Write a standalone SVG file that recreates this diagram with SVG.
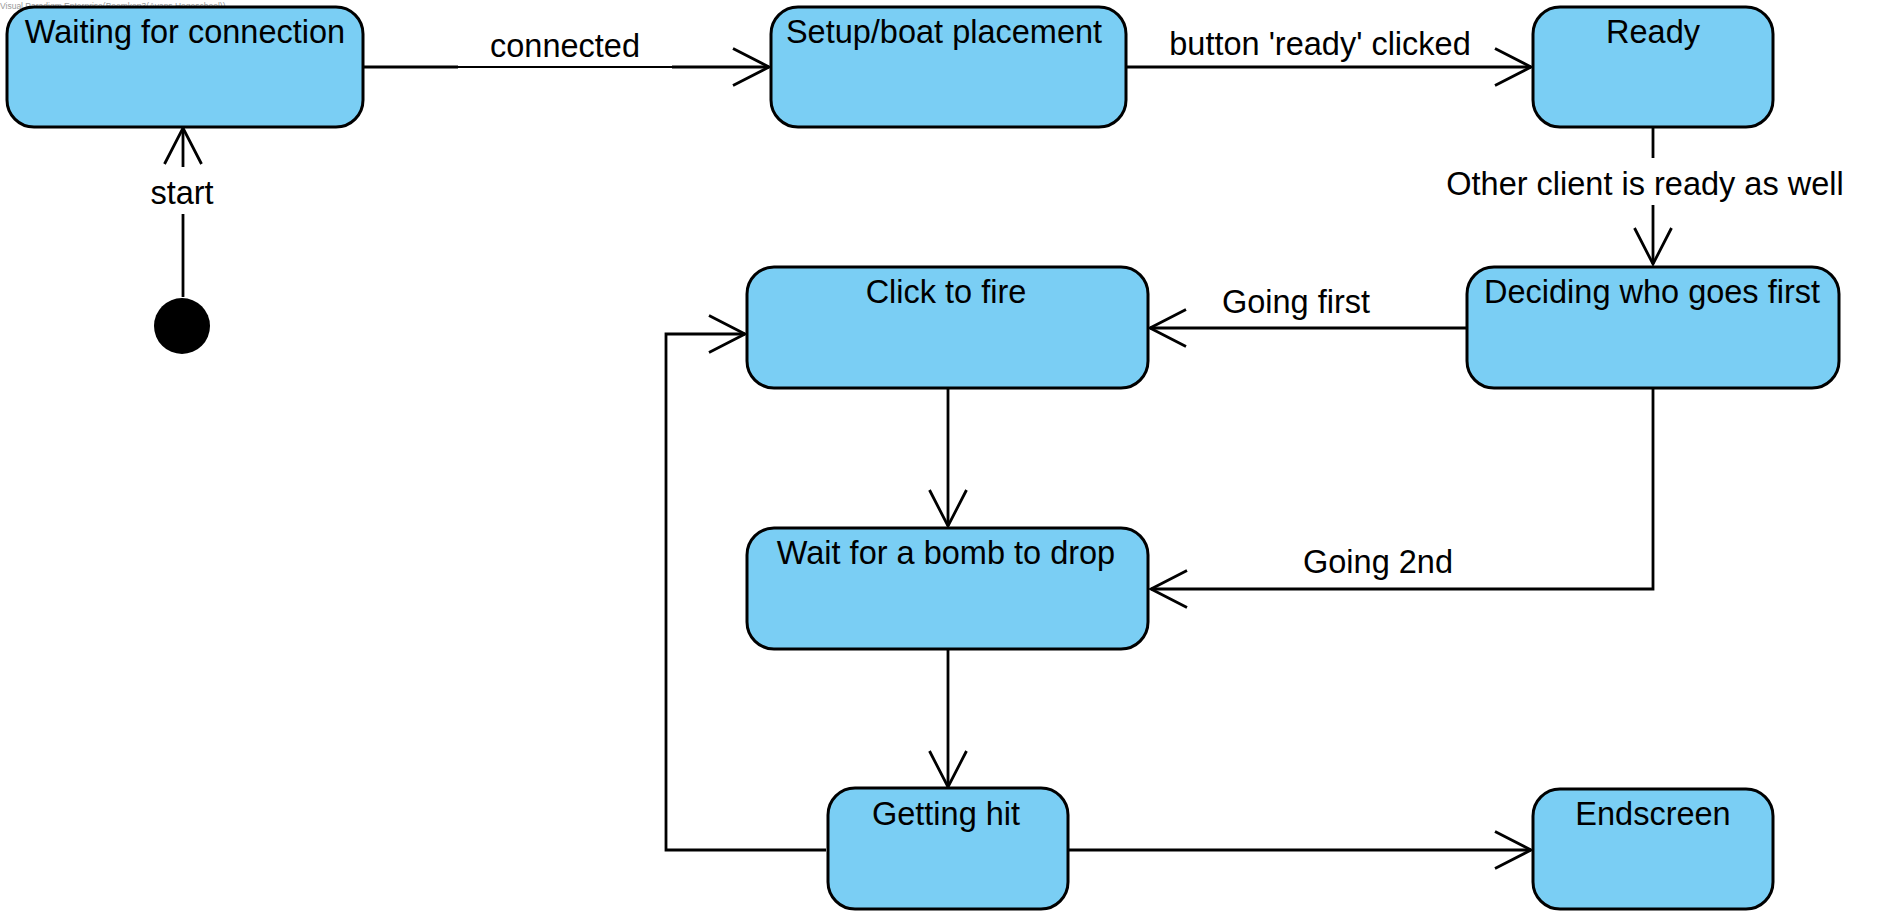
<svg xmlns="http://www.w3.org/2000/svg" width="1893" height="921" viewBox="0 0 1893 921">
<style>
.node{fill:#7ACEF4;stroke:#000;stroke-width:3}
.t{font-family:"Liberation Sans",Arial,sans-serif;font-size:32.5px;fill:#000;text-anchor:middle}
.e{fill:none;stroke:#000;stroke-width:2.8}
.wm{font-family:"Liberation Sans",Arial,sans-serif;font-size:8.5px;fill:#9a9a9a}
</style>
<defs>
<marker id="arr" markerUnits="userSpaceOnUse" markerWidth="44" markerHeight="44" viewBox="-40 -22 44 44" refX="0" refY="0" orient="auto" overflow="visible">
<path d="M-36,-18.5 L0,0 L-36,18.5" fill="none" stroke="#000" stroke-width="2.8"/>
</marker>
</defs>
<rect width="1893" height="921" fill="#fff"/>
<text class="wm" x="0" y="9">Visual Paradigm Enterprise(Boomkop3(Avans Hogeschool))</text>
<g id="connectors">
<g id="e-start">
<line class="e" x1="183" y1="297" x2="183" y2="214"/>
<path class="e" d="M183,167 L183,128" marker-end="url(#arr)"/>
<text class="t" x="182" y="204">start</text>
</g>
<g id="e-connected">
<line class="e" x1="363" y1="67" x2="458" y2="67"/>
<line x1="458" y1="67" x2="672" y2="67" stroke="#000" stroke-width="1.8"/>
<path class="e" d="M672,67 L769,67" marker-end="url(#arr)"/>
<text class="t" x="565" y="57">connected</text>
</g>
<g id="e-button">
<path class="e" d="M1126,67 L1531,67" marker-end="url(#arr)"/>
<text class="t" x="1320" y="55">button 'ready' clicked</text>
</g>
<g id="e-other">
<line class="e" x1="1653" y1="127" x2="1653" y2="158"/>
<path class="e" d="M1653,205 L1653,264" marker-end="url(#arr)"/>
<text class="t" x="1645" y="195">Other client is ready as well</text>
</g>
<g id="e-first">
<path class="e" d="M1467,328 L1150,328" marker-end="url(#arr)"/>
<text class="t" x="1296" y="313">Going first</text>
</g>
<g id="e-second">
<path class="e" d="M1653,388 L1653,589 L1151,589" marker-end="url(#arr)"/>
<text class="t" x="1378" y="573">Going 2nd</text>
</g>
<g id="e-click-wait">
<path class="e" d="M948,388 L948,526" marker-end="url(#arr)"/>
</g>
<g id="e-wait-hit">
<path class="e" d="M948,649 L948,787" marker-end="url(#arr)"/>
</g>
<g id="e-hit-click">
<path class="e" d="M826,850 L666,850 L666,334 L745,334" marker-end="url(#arr)"/>
</g>
<g id="e-hit-end">
<path class="e" d="M1068,850 L1531,850" marker-end="url(#arr)"/>
</g>
</g>
<g id="initial">
<circle cx="182" cy="326" r="28" fill="#000"/>
</g>
<g id="n-waiting">
<rect class="node" x="7" y="7" width="356" height="120" rx="27" ry="27"/>
<text class="t" x="185" y="43">Waiting for connection</text>
</g>
<g id="n-setup">
<rect class="node" x="771" y="7" width="355" height="120" rx="27" ry="27"/>
<text class="t" x="944" y="43">Setup/boat placement</text>
</g>
<g id="n-ready">
<rect class="node" x="1533" y="7" width="240" height="120" rx="27" ry="27"/>
<text class="t" x="1653" y="43">Ready</text>
</g>
<g id="n-deciding">
<rect class="node" x="1467" y="267" width="372" height="121" rx="27" ry="27"/>
<text class="t" x="1652" y="303">Deciding who goes first</text>
</g>
<g id="n-click">
<rect class="node" x="747" y="267" width="401" height="121" rx="27" ry="27"/>
<text class="t" x="946" y="303">Click to fire</text>
</g>
<g id="n-wait">
<rect class="node" x="747" y="528" width="401" height="121" rx="27" ry="27"/>
<text class="t" x="946" y="564">Wait for a bomb to drop</text>
</g>
<g id="n-hit">
<rect class="node" x="828" y="788" width="240" height="121" rx="27" ry="27"/>
<text class="t" x="946" y="825">Getting hit</text>
</g>
<g id="n-end">
<rect class="node" x="1533" y="789" width="240" height="120" rx="27" ry="27"/>
<text class="t" x="1653" y="825">Endscreen</text>
</g>
</svg>
